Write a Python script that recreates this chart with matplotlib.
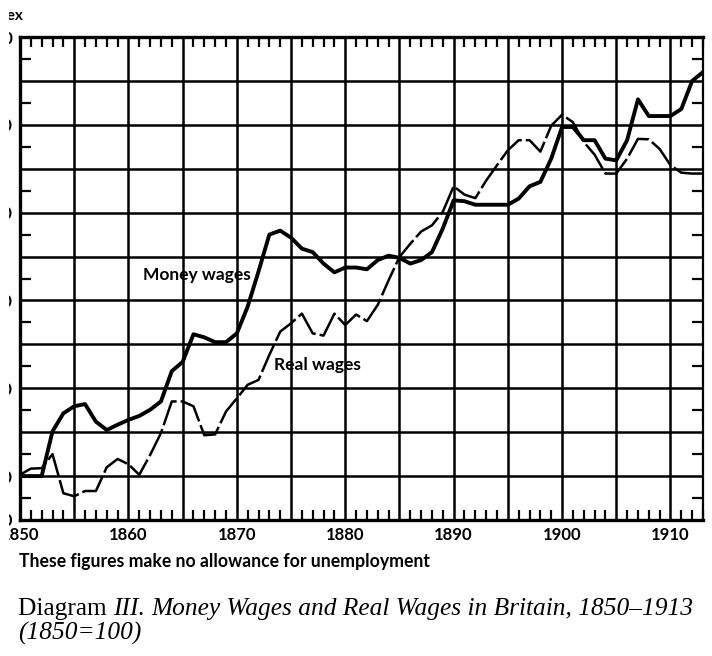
import matplotlib
matplotlib.use("Agg")
import matplotlib.pyplot as plt
from matplotlib.patches import Rectangle
from matplotlib.ticker import MultipleLocator

years = list(range(1850, 1914))

money_wages = [100, 100, 100, 110.2, 114.3, 115.9, 116.4, 112.4, 110.5, 111.7,
               112.8, 113.7, 115.1, 117, 123.9, 126, 132.3, 131.6, 130.5, 130.5,
               132.5, 138.6, 146.6, 155, 155.9, 154.3, 151.8, 151, 148.4, 146.4,
               147.5, 147.5, 147.1, 149.2, 150.2, 149.7, 148.4, 149.2, 151, 156.4,
               162.8, 162.6, 161.8, 161.8, 161.8, 161.8, 163.2, 166, 167, 172.3,
               179.5, 179.5, 176.5, 176.5, 172.3, 171.9, 176.5, 185.8, 182, 182,
               182, 183.6, 190, 192]

real_wages = [100.3, 101.7, 101.8, 105, 96.1, 95.4, 96.6, 96.6, 102, 103.9,
              102.7, 100.3, 104.8, 109.8, 117, 117, 115.9, 109.3, 109.5, 114.7,
              117.7, 120.8, 121.9, 127.6, 132.9, 134.8, 137, 132.5, 132, 137,
              134.4, 136.8, 135.3, 139, 144.6, 149.9, 152.9, 155.7, 157.1, 160.2,
              166, 164.1, 163.3, 167.3, 170.8, 174.2, 176.5, 176.5, 173.9, 179.8,
              182.3, 180.6, 176.1, 173.2, 168.9, 168.9, 172.3, 176.8, 176.7, 174.5,
              170.8, 169.1, 168.9, 168.9]

year_labels = [1850, 1860, 1870, 1880, 1890, 1900, 1910]
index_labels = [90, 100, 120, 140, 160, 180, 200]

sans = "Lato"
serif = "Liberation Serif"

fig = plt.figure(figsize=(7.12, 6.56), dpi=100)
W, H = 712, 656
ax = fig.add_axes([20 / W, 1 - 520 / H, 683 / W, 483 / H])

ax.plot(years, money_wages, color="black", lw=2.8, solid_joinstyle="round", zorder=3)
ax.plot(years, real_wages, color="black", lw=1.8, linestyle=(0, (12, 1.6)), zorder=3)

# grid every 5 years / 10 points, labels only on some
ax.xaxis.set_minor_locator(MultipleLocator(1))
ax.yaxis.set_minor_locator(MultipleLocator(5))
xt = [t for t in range(1850, 1914, 5)]
yt = [t for t in range(90, 201, 10)]
ax.set_xticks(xt)
ax.set_xticklabels([str(t) if t in year_labels else "" for t in xt])
ax.set_yticks(yt)
ax.set_yticklabels([str(t) if t in index_labels else "" for t in yt])
ax.set_xlim(1850, 1913)
ax.set_ylim(90, 200)

ax.tick_params(which="major", length=0)
ax.tick_params(axis="x", which="major", pad=5)
ax.tick_params(axis="y", which="major", pad=5)
ax.tick_params(axis="x", which="minor", direction="in", top=True, bottom=True,
               length=7, width=1.6, color="black")
ax.tick_params(axis="y", which="minor", direction="in", left=True, right=True,
               length=8, width=1.6, color="black")

for lab in ax.get_xticklabels() + ax.get_yticklabels():
    lab.set_fontfamily(sans)
    lab.set_fontweight("bold")
    lab.set_fontsize(12)

ax.grid(which="major", color="black", lw=1.8)
for side in ["left", "bottom", "top"]:
    ax.spines[side].set_linewidth(2.4)
ax.spines["right"].set_linewidth(1.6)

ax.text(1866.3, 145.8, "Money wages", fontfamily=sans, fontweight="bold",
        fontsize=12.5, ha="center", va="center")
ax.text(1877.4, 125.2, "Real wages", fontfamily=sans, fontweight="bold",
        fontsize=12.5, ha="center", va="center")

fig.text(24 / W, 1 - 16 / H, "Index", fontfamily=sans, fontweight="bold",
         fontsize=11, ha="right", va="center")

fig.text(19 / W, 1 - 562 / H, "These figures make no allowance for unemployment",
         fontfamily=sans, fontweight="bold", fontsize=12.7, ha="left", va="center")

t1 = fig.text(18 / W, 1 - 609 / H, "Diagram ", fontfamily=serif, fontsize=18.3,
              ha="left", va="center")
a = ax.annotate("III", xy=(1, 0), xycoords=t1, va="bottom", ha="left",
                fontfamily=serif, style="italic", fontsize=18.3, annotation_clip=False)
b = ax.annotate(". ", xy=(1, 0), xycoords=a, va="bottom", ha="left",
                fontfamily=serif, fontsize=18.3, annotation_clip=False)
ax.annotate("Money Wages and Real Wages in Britain, 1850\u20131913", xy=(1, 0),
            xycoords=b, va="bottom", ha="left", fontfamily=serif, style="italic",
            fontsize=18.3, annotation_clip=False)
fig.text(18 / W, 1 - 633 / H, "(1850=100)", fontfamily=serif, style="italic",
         fontsize=18.3, ha="left", va="center")

# the scan is trimmed on the left: labels there show only their right edge
fig.patches.append(Rectangle((0, 1 - 548 / H), 9 / W, 548 / H, transform=fig.transFigure,
                             facecolor="white", edgecolor="none", zorder=10))

fig.savefig("out.png", dpi=100)
